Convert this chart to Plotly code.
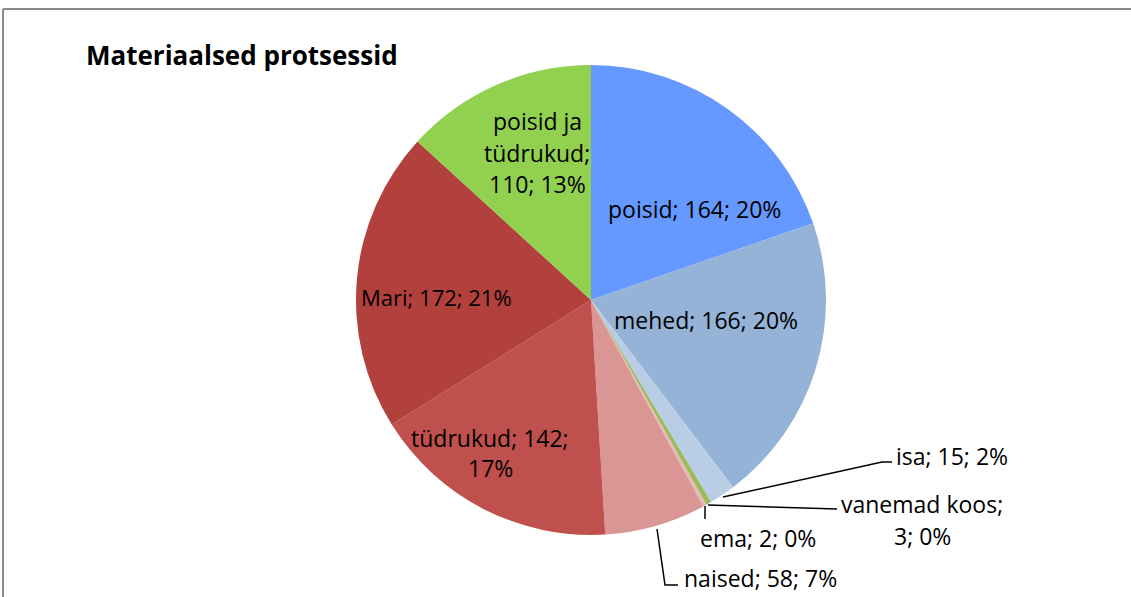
import plotly.graph_objects as go

W, H = 1131, 597

categories = ["poisid", "mehed", "isa", "vanemad koos", "ema", "naised",
              "tüdrukud", "Mari", "poisid ja tüdrukud"]
values = [164, 166, 15, 3, 2, 58, 142, 172, 110]
colors = ["#6699FF", "#95B3D7", "#B9CDE5", "#9BBB59", "#E6B9B8", "#D99694",
          "#C0504D", "#B2403C", "#92D050"]
title = "Materiaalsed protsessid"

total = sum(values)
pct = [round(v / total * 100) for v in values]
lab = {c: f"{c}; {v}; {p}%" for c, v, p in zip(categories, values, pct)}

OFF = 0  # body margin removed below

# pie geometry in screen pixels
cx, cy, r = 591, 300, 235


def px(x):
    return (x - OFF) / W


def py(y):
    return 1 - (y - OFF) / H


fig = go.Figure(go.Pie(
    labels=categories, values=values, sort=False, direction="clockwise",
    rotation=0, textinfo="none", hoverinfo="label+value+percent",
    marker=dict(colors=colors, line=dict(width=0)),
    domain=dict(x=[px(cx - r), px(cx + r)],
                y=[py(cy + r), py(cy - r)]),
    showlegend=False,
))

FONT = "Open Sans"
FS = 23

annotations = []


def add_text(text, x, y, anchor="center", size=FS, bold=False):
    annotations.append(dict(
        text=f"<b>{text}</b>" if bold else text, x=px(x), y=py(y),
        xref="paper", yref="paper", xanchor=anchor, yanchor="middle",
        showarrow=False, font=dict(family=FONT, size=size, color="black")))


add_text(title, 84, 55, anchor="left", size=26, bold=True)
add_text(lab["poisid"], 694, 209)
add_text(lab["mehed"], 706, 320)
add_text(lab["Mari"], 436, 297, size=22)
t = lab["tüdrukud"].rsplit(" ", 1)
add_text(t[0], 490, 438)
add_text(t[1], 490, 468)
add_text("poisid ja", 537, 121)
add_text("tüdrukud;", 537, 153)
add_text(f"{values[8]}; {pct[8]}%", 537, 184)
add_text(lab["isa"], 894, 456, anchor="left")
add_text("vanemad koos;", 922, 504)
add_text(f"{values[3]}; {pct[3]}%", 922, 536)
add_text(lab["ema"], 758, 538)
add_text(lab["naised"], 682, 578, anchor="left")

shapes = []


def add_path(points):
    d = "M " + " L ".join(f"{px(x)},{py(y)}" for x, y in points)
    shapes.append(dict(type="path", path=d, xref="paper", yref="paper",
                       line=dict(color="black", width=1.5)))


add_path([(723, 497), (882, 462), (892, 462)])
add_path([(708, 505), (837, 509)])
add_path([(705, 506), (705, 519)])
add_path([(657, 529), (665, 585), (678, 585)])

# chart frame (top and left edges visible)
shapes.append(dict(type="line", xref="paper", yref="paper",
                   x0=px(3), x1=1, y0=py(9), y1=py(9),
                   line=dict(color="#8a8a8a", width=2)))
shapes.append(dict(type="line", xref="paper", yref="paper",
                   x0=px(3), x1=px(3), y0=py(9), y1=0,
                   line=dict(color="#8a8a8a", width=2)))

fig.update_layout(
    width=W, height=H, margin=dict(l=0, r=0, t=0, b=0),
    paper_bgcolor="white", plot_bgcolor="white",
    annotations=annotations, shapes=shapes,
)

fig.write_html("out.html", config={"displayModeBar": False},
               post_script="document.body.style.margin='0px';")
